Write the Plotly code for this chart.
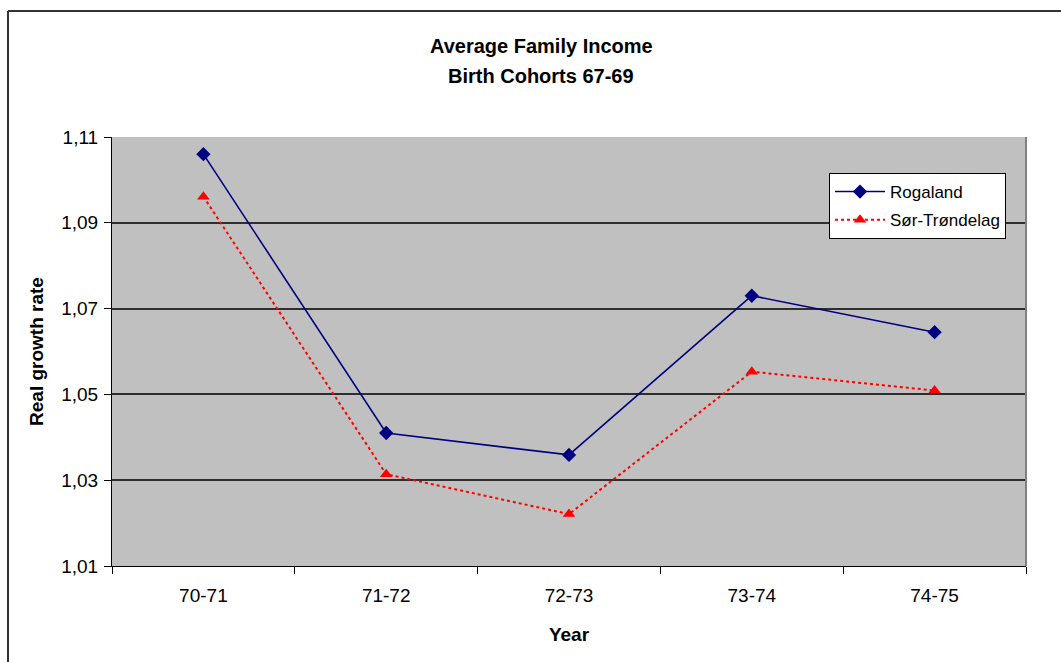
import plotly.graph_objects as go

# Data: real growth rate of average family income, birth cohorts 67-69
years = ["70-71", "71-72", "72-73", "73-74", "74-75"]
rogaland = [1.106, 1.041, 1.0359, 1.073, 1.0645]
sor_trondelag = [1.0961, 1.0314, 1.0221, 1.0553, 1.0509]
y_ticks = [1.01, 1.03, 1.05, 1.07, 1.09, 1.11]
y_tick_text = ["1,01", "1,03", "1,05", "1,07", "1,09", "1,11"]
title_lines = ["Average Family Income", "Birth Cohorts 67-69"]

FONT = "Liberation Sans, Arial, sans-serif"

fig = go.Figure()
fig.add_trace(go.Scatter(
    x=years, y=rogaland, name="Rogaland", mode="lines+markers",
    legendgroup="a",
    line=dict(color="#000080", width=1.6),
    marker=dict(symbol="diamond", size=11, color="#000080"),
))
fig.add_trace(go.Scatter(
    x=years, y=sor_trondelag, name="Sør-Trøndelag", mode="lines+markers",
    legendgroup="b",
    line=dict(color="#FF0000", width=2, dash="dot"),
    marker=dict(symbol="triangle-up", size=11, color="#FF0000"),
))

W, H = 1061, 662
L, R, T, B = 112, 35, 137, 96
pw, ph = W - L - R, H - T - B

def px_x(x):
    return (x - L) / pw

def px_y(y):
    return (H - B - y) / ph

# two-line chart title, one annotation per line
annotations = [
    dict(text=f"<b>{line}</b>", xref="paper", yref="paper",
         x=px_x(541), y=px_y(yc), xanchor="center", yanchor="middle",
         showarrow=False, font=dict(family=FONT, size=20, color="black"))
    for line, yc in zip(title_lines, [46, 76])
]

fig.update_layout(
    width=W, height=H,
    margin=dict(l=L, r=R, t=T, b=B),
    paper_bgcolor="white",
    plot_bgcolor="#C0C0C0",
    font=dict(family=FONT, size=19, color="black"),
    annotations=annotations,
    showlegend=True,
    legend=dict(
        x=px_x(829), y=px_y(173), xanchor="left", yanchor="top",
        bgcolor="white", bordercolor="black", borderwidth=1,
        font=dict(family=FONT, size=17, color="black"),
        tracegroupgap=3, itemwidth=50,
    ),
    xaxis=dict(
        type="category",
        range=[-0.5, len(years) - 0.5],
        showgrid=False,
        showline=True, linecolor="black", linewidth=1,
        ticks="outside", tickson="boundaries", ticklen=7, tickcolor="black",
        ticklabelstandoff=12,
        tickfont=dict(family=FONT, size=19),
        title=dict(text="<b>Year</b>", font=dict(family=FONT, size=19), standoff=22),
    ),
    yaxis=dict(
        range=[1.01, 1.11],
        tickvals=y_ticks, ticktext=y_tick_text,
        showgrid=True, gridcolor="#2e2e2e", gridwidth=1.5,
        showline=True, linecolor="black", linewidth=1,
        ticks="outside", ticklen=7, tickcolor="black",
        ticklabelstandoff=2,
        tickfont=dict(family=FONT, size=19),
        zeroline=False,
        title=dict(text="<b>Real growth rate</b>", font=dict(family=FONT, size=19), standoff=12),
    ),
    shapes=[
        # plot-area border on the right
        dict(type="line", xref="paper", yref="paper", x0=1, x1=1, y0=0, y1=1,
             line=dict(color="#808080", width=2)),
        # outer chart frame (top and left edges)
        dict(type="line", xref="paper", yref="paper",
             x0=px_x(8), x1=px_x(W + 5), y0=px_y(11), y1=px_y(11),
             line=dict(color="#333333", width=2)),
        dict(type="line", xref="paper", yref="paper",
             x0=px_x(8), x1=px_x(8), y0=px_y(11), y1=px_y(H + 5),
             line=dict(color="#333333", width=2)),
    ],
)

fig.write_html("out.html")
